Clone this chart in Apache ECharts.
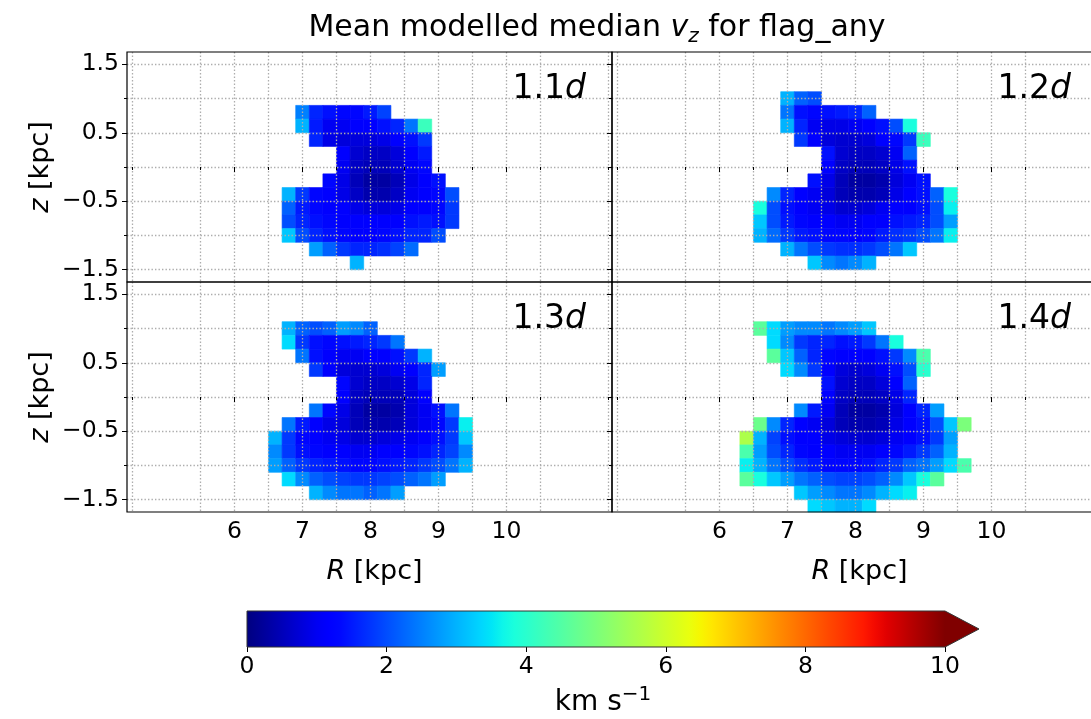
<!DOCTYPE html>
<html>
<head>
<meta charset="utf-8">
<script src="https://cdn.jsdelivr.net/npm/echarts@6/dist/echarts.min.js"></script>
<style>
  html, body { margin: 0; padding: 0; background: #ffffff; }
  #chart { width: 1091px; height: 719px; }
</style>
</head>
<body>
<div id="chart"></div>
<script>
// ---- data -------------------------------------------------------------
// Bin size (kpc) of the square R-z cells
const CELL = 0.2;

// Axis tick positions and labels
const R_MAJOR = [6, 7, 8, 9, 10];
const R_MINOR = [4.5, 5.5, 6.5, 7.5, 8.5, 9.5, 10.5, 11.5];
const Z_MAJOR = [-1.5, -0.5, 0.5, 1.5];
const Z_MINOR = [-1, 0, 1];
const CBAR_RANGE = [0, 10];
const CBAR_TICKS = [0, 2, 4, 6, 8, 10];
const PANEL_LABELS = ['1.1', '1.2', '1.3', '1.4'];

// Each row: [z centre (kpc), R centre of first cell (kpc), mean median v_z per cell (km/s)]
const rows11 = [
  [ 0.8, 7.0, [2.5, 1.6, 1.4, 1.3, 1.3, 1.5, 1.9]],
  [ 0.6, 7.0, [3.0, 1.5, 1.0, 1.0, 1.1, 1.2, 1.4, 1.6, 2.4, 4.2]],
  [ 0.4, 7.2, [1.6, 0.9, 0.8, 0.8, 0.8, 0.9, 1.2, 1.4, 1.8]],
  [ 0.2, 7.6, [1.2, 0.7, 0.6, 0.6, 0.8, 1.1, 1.5]],
  [ 0.0, 7.6, [1.0, 0.6, 0.5, 0.5, 0.7, 1.0, 1.3]],
  [-0.2, 7.4, [1.3, 0.9, 0.5, 0.3, 0.3, 0.5, 0.9, 1.1, 1.4]],
  [-0.4, 6.8, [3.0, 1.8, 1.3, 1.1, 0.9, 0.6, 0.4, 0.4, 0.6, 1.0, 1.2, 1.3, 2.0]],
  [-0.6, 6.8, [2.2, 1.5, 1.3, 1.2, 1.1, 0.9, 0.8, 0.8, 0.9, 1.1, 1.2, 1.3, 1.8]],
  [-0.8, 6.8, [2.0, 1.6, 1.4, 1.3, 1.2, 1.1, 1.1, 1.1, 1.2, 1.4, 1.5, 1.4, 1.8]],
  [-1.0, 6.8, [3.2, 2.0, 1.6, 1.4, 1.3, 1.2, 1.2, 1.3, 1.4, 1.6, 1.6, 2.0]],
  [-1.2, 7.2, [2.8, 2.2, 1.8, 1.6, 1.6, 1.7, 1.9, 2.3]],
  [-1.4, 7.8, [3.0]]
];

const rows12 = [
  [ 1.0, 7.0, [3.0, 2.2, 2.0]],
  [ 0.8, 7.0, [2.4, 1.4, 1.3, 1.4, 1.5, 1.6, 2.2]],
  [ 0.6, 7.0, [3.0, 1.6, 1.0, 0.9, 0.9, 1.0, 1.2, 1.4, 2.0, 3.8]],
  [ 0.4, 7.2, [1.8, 1.2, 0.8, 0.7, 0.7, 0.8, 1.1, 1.3, 1.8, 4.2]],
  [ 0.2, 7.6, [1.4, 0.7, 0.6, 0.6, 0.7, 1.0, 2.2]],
  [ 0.0, 7.6, [1.2, 0.6, 0.5, 0.5, 0.6, 0.9, 1.4]],
  [-0.2, 7.4, [1.4, 0.9, 0.5, 0.3, 0.3, 0.4, 0.8, 1.0, 1.4]],
  [-0.4, 6.8, [2.6, 1.6, 1.2, 1.0, 0.8, 0.5, 0.4, 0.4, 0.5, 0.9, 1.1, 1.4, 2.2, 3.8]],
  [-0.6, 6.6, [3.8, 2.0, 1.4, 1.2, 1.0, 0.9, 0.7, 0.7, 0.8, 1.0, 1.1, 1.2, 1.4, 2.0, 3.6]],
  [-0.8, 6.6, [3.2, 2.0, 1.5, 1.3, 1.2, 1.1, 1.0, 1.0, 1.1, 1.2, 1.4, 1.5, 1.6, 2.0, 2.8]],
  [-1.0, 6.6, [3.0, 2.3, 1.8, 1.5, 1.4, 1.3, 1.3, 1.2, 1.3, 1.5, 1.7, 1.8, 2.0, 2.4, 3.6]],
  [-1.2, 7.0, [3.0, 2.4, 2.0, 1.8, 1.7, 1.7, 1.8, 2.0, 2.4, 3.2]],
  [-1.4, 7.4, [3.2, 2.6, 2.4, 2.6, 3.0]]
];

const rows13 = [
  [ 1.0, 6.8, [3.0, 2.2, 2.0, 2.2, 2.8, 2.6, 2.2]],
  [ 0.8, 6.8, [3.4, 1.8, 1.4, 1.3, 1.4, 1.5, 1.6, 1.8, 2.4]],
  [ 0.6, 7.0, [2.4, 1.4, 1.1, 1.0, 1.0, 1.1, 1.2, 1.4, 1.8, 3.0]],
  [ 0.4, 7.2, [1.8, 1.2, 0.8, 0.7, 0.7, 0.8, 1.0, 1.2, 1.6, 2.8]],
  [ 0.2, 7.6, [1.3, 0.7, 0.6, 0.6, 0.7, 0.9, 1.6]],
  [ 0.0, 7.6, [1.1, 0.6, 0.5, 0.5, 0.5, 0.8, 1.2]],
  [-0.2, 7.2, [2.4, 1.3, 0.9, 0.5, 0.3, 0.3, 0.4, 0.8, 1.0, 1.4, 2.4]],
  [-0.4, 6.8, [2.4, 1.5, 1.1, 0.9, 0.8, 0.5, 0.4, 0.4, 0.5, 0.8, 1.0, 1.3, 1.8, 3.6]],
  [-0.6, 6.6, [3.0, 1.8, 1.3, 1.1, 1.0, 0.9, 0.7, 0.7, 0.8, 0.9, 1.0, 1.2, 1.4, 1.8, 3.2]],
  [-0.8, 6.6, [2.6, 1.8, 1.4, 1.3, 1.2, 1.1, 1.0, 1.0, 1.1, 1.2, 1.3, 1.4, 1.6, 1.9, 2.6]],
  [-1.0, 6.6, [2.8, 2.2, 1.8, 1.6, 1.5, 1.4, 1.3, 1.3, 1.4, 1.5, 1.6, 1.8, 2.0, 2.4, 3.0]],
  [-1.2, 6.8, [3.4, 2.6, 2.2, 2.0, 1.9, 1.8, 1.8, 1.9, 2.0, 2.2, 2.4, 2.8]],
  [-1.4, 7.2, [3.0, 2.6, 2.4, 2.4, 2.2, 2.4, 2.8]]
];

const rows14 = [
  [ 1.0, 6.6, [4.6, 3.4, 2.8, 2.6, 2.6, 2.4, 2.6, 2.8, 3.2]],
  [ 0.8, 6.8, [3.4, 2.6, 1.8, 1.6, 1.6, 1.4, 1.5, 1.8, 2.4, 3.8]],
  [ 0.6, 6.8, [4.6, 3.2, 2.2, 1.6, 1.3, 1.1, 1.1, 1.2, 1.4, 1.8, 2.6, 4.4]],
  [ 0.4, 7.0, [3.4, 2.6, 1.8, 1.2, 0.8, 0.7, 0.8, 1.0, 1.4, 2.0, 4.0]],
  [ 0.2, 7.6, [1.4, 0.7, 0.6, 0.6, 0.8, 1.1, 2.2]],
  [ 0.0, 7.6, [1.2, 0.6, 0.5, 0.5, 0.6, 0.9, 1.6]],
  [-0.2, 7.2, [2.6, 1.5, 1.0, 0.5, 0.3, 0.3, 0.4, 0.8, 1.1, 1.6, 2.8]],
  [-0.4, 6.6, [4.8, 2.6, 1.6, 1.2, 1.0, 0.8, 0.5, 0.4, 0.4, 0.5, 0.9, 1.1, 1.4, 2.0, 3.2, 5.0]],
  [-0.6, 6.4, [5.6, 3.0, 1.9, 1.4, 1.2, 1.1, 0.9, 0.8, 0.7, 0.7, 0.8, 1.0, 1.2, 1.4, 1.8, 2.8]],
  [-0.8, 6.4, [4.4, 2.8, 2.0, 1.6, 1.3, 1.2, 1.1, 1.0, 1.0, 1.0, 1.1, 1.3, 1.5, 1.8, 2.2, 3.0]],
  [-1.0, 6.4, [3.6, 3.0, 2.4, 2.0, 1.7, 1.5, 1.3, 1.3, 1.3, 1.4, 1.6, 1.8, 2.2, 2.4, 2.8, 3.4, 4.4]],
  [-1.2, 6.4, [4.6, 3.8, 3.2, 2.8, 2.4, 2.2, 2.0, 1.9, 1.9, 2.0, 2.2, 2.6, 3.2, 3.8, 4.6]],
  [-1.4, 7.2, [3.2, 2.8, 2.6, 2.4, 2.4, 2.6, 3.0, 3.4, 3.6]],
  [-1.6, 7.4, [3.4, 3.2, 3.0, 3.0, 3.4]]
];

// ---- helpers ------------------------------------------------------------
const FONT = 'DejaVu Sans';
const X_MIN = 4.42, X_MAX = 11.55;
const Y_MIN = -1.68, Y_MAX = 1.68;

// matplotlib "jet" colormap, t in [0, 1]
function jet(t) {
  t = Math.max(0, Math.min(1, t));
  const seg = pts => {
    for (let i = 1; i < pts.length; i++) {
      if (t <= pts[i][0]) {
        const [x0, y0] = pts[i - 1], [x1, y1] = pts[i];
        return y0 + (y1 - y0) * (t - x0) / (x1 - x0);
      }
    }
    return pts[pts.length - 1][1];
  };
  const r = seg([[0, 0], [0.35, 0], [0.66, 1], [0.89, 1], [1, 0.5]]);
  const g = seg([[0, 0], [0.125, 0], [0.375, 1], [0.64, 1], [0.91, 0], [1, 0]]);
  const b = seg([[0, 0.5], [0.11, 1], [0.34, 1], [0.65, 0], [1, 0]]);
  return 'rgb(' + Math.round(r * 255) + ',' + Math.round(g * 255) + ',' + Math.round(b * 255) + ')';
}
const norm = v => (v - CBAR_RANGE[0]) / (CBAR_RANGE[1] - CBAR_RANGE[0]);

// expand rows into [R, z, value] cells
function toCells(rows) {
  const out = [];
  rows.forEach(([z, r0, vals]) => {
    vals.forEach((v, i) => {
      out.push([Math.round((r0 + i * CELL) * 100) / 100, z, v]);
    });
  });
  return out;
}

function renderCell(params, api) {
  const r = api.value(0), z = api.value(1), v = api.value(2);
  const p0 = api.coord([r - CELL / 2, z + CELL / 2]);
  const p1 = api.coord([r + CELL / 2, z - CELL / 2]);
  const cs = params.coordSys;
  const shape = echarts.graphic.clipRectByRect(
    { x: p0[0], y: p0[1], width: p1[0] - p0[0], height: p1[1] - p0[1] },
    { x: cs.x, y: cs.y, width: cs.width, height: cs.height }
  );
  if (!shape) return null;
  const c = jet(norm(v));
  return { type: 'rect', shape: shape, style: { fill: c, stroke: c, lineWidth: 0.6 } };
}

const GRID_LINE = { color: '#adadad', width: 1.3, type: [1.4, 2.1] };
const TICK_LINE = { color: '#000', width: 1 };
const tickLabel = { color: '#000', fontFamily: FONT, fontSize: 23.5 };
const nameStyle = {
  color: '#000', fontFamily: FONT, fontSize: 27,
  rich: { i: { fontFamily: FONT, fontSize: 27, fontStyle: 'italic', color: '#000' } }
};
const minus = v => (v < 0 ? '\u2212' + Math.abs(v) : String(v));

// ---- layout ---------------------------------------------------------------
const PW = 485, PH = 230;
const panels = [
  { rows: rows11, left: 127, top: 52, xLab: false, yLab: true },
  { rows: rows12, left: 612, top: 52, xLab: false, yLab: false },
  { rows: rows13, left: 127, top: 282, xLab: true, yLab: true },
  { rows: rows14, left: 612, top: 282, xLab: true, yLab: false }
];

const grid = [], xAxis = [], yAxis = [], series = [], graphic = [];

panels.forEach((p, i) => {
  grid.push({ left: p.left, top: p.top, width: PW, height: PH, show: true,
    outerBoundsMode: 'none', containLabel: false,
    borderColor: '#000', borderWidth: 1.2, backgroundColor: 'transparent', z: 10 });

  const xCommon = { gridIndex: i, type: 'value', min: X_MIN, max: X_MAX, position: 'bottom', z: 5,
    axisLine: { show: false }, splitLine: { show: true, lineStyle: GRID_LINE } };
  xAxis.push(Object.assign({}, xCommon, {
    axisTick: { show: true, customValues: R_MAJOR, length: 5, lineStyle: TICK_LINE },
    axisLabel: Object.assign({ show: p.xLab, customValues: R_MAJOR, margin: 8 }, tickLabel),
    name: p.xLab ? '{i|R} [kpc]' : '', nameLocation: 'middle', nameGap: 46,
    nameTextStyle: Object.assign({ padding: [0, 0, 0, 10] }, nameStyle)
  }));
  xAxis.push(Object.assign({}, xCommon, {
    axisTick: { show: true, customValues: R_MINOR, length: 3, lineStyle: TICK_LINE },
    axisLabel: { show: false, customValues: R_MINOR }
  }));

  const yCommon = { gridIndex: i, type: 'value', min: Y_MIN, max: Y_MAX, position: 'left', z: 5,
    axisLine: { show: false }, splitLine: { show: true, lineStyle: GRID_LINE } };
  yAxis.push(Object.assign({}, yCommon, {
    axisTick: { show: true, customValues: Z_MAJOR, length: 5, lineStyle: TICK_LINE },
    axisLabel: Object.assign({ show: p.yLab, customValues: Z_MAJOR, margin: 8, formatter: minus }, tickLabel),
    name: p.yLab ? '{i|z} [kpc]' : '', nameLocation: 'middle', nameGap: 73, nameRotate: 90,
    nameTextStyle: nameStyle
  }));
  yAxis.push(Object.assign({}, yCommon, {
    axisTick: { show: true, customValues: Z_MINOR, length: 3, lineStyle: TICK_LINE },
    axisLabel: { show: false, customValues: Z_MINOR }
  }));

  series.push({ type: 'custom', xAxisIndex: 2 * i, yAxisIndex: 2 * i, z: 2,
    data: toCells(p.rows), renderItem: renderCell, silent: true });

  graphic.push({ type: 'text', z: 20,
    style: { text: '{n|' + PANEL_LABELS[i] + '}{i|d}', x: p.left + 459, y: p.top + 37,
      align: 'right', verticalAlign: 'middle',
      rich: { n: { fontFamily: FONT, fontSize: 33, color: '#000' },
              i: { fontFamily: FONT, fontSize: 33, fontStyle: 'italic', color: '#000' } } } });
});

// colour bar
const cb = grid.length;
grid.push({ left: 247, top: 611, width: 698, height: 36, show: false,
  outerBoundsMode: 'none', containLabel: false });
xAxis.push({ gridIndex: cb, type: 'value', min: CBAR_RANGE[0], max: CBAR_RANGE[1], position: 'bottom',
  axisLine: { show: false }, splitLine: { show: false },
  axisTick: { show: true, customValues: CBAR_TICKS, length: 5, lineStyle: TICK_LINE },
  axisLabel: Object.assign({ customValues: CBAR_TICKS, margin: 8 }, tickLabel),
  name: '{n|km s}{s|\u22121}', nameLocation: 'middle', nameGap: 38,
  nameTextStyle: { color: '#000', fontFamily: FONT, padding: [0, 0, 0, 14], rich: {
    n: { fontFamily: FONT, fontSize: 28, color: '#000', lineHeight: 36, verticalAlign: 'middle' },
    s: { fontFamily: FONT, fontSize: 20, color: '#000', lineHeight: 20, verticalAlign: 'top' } } }
});
yAxis.push({ gridIndex: cb, type: 'value', min: 0, max: 1, show: false });

const stops = [];
for (let k = 0; k <= 60; k++) stops.push({ offset: k / 60, color: jet(k / 60) });

series.push({ type: 'custom', xAxisIndex: xAxis.length - 1, yAxisIndex: yAxis.length - 1,
  silent: true, z: 2, data: [CBAR_RANGE],
  renderItem: function (params, api) {
    const a = api.coord([api.value(0), 1]);
    const b = api.coord([api.value(1), 0]);
    const midY = (a[1] + b[1]) / 2;
    const tip = [b[0] + 34, midY];
    return { type: 'group', children: [
      { type: 'rect', shape: { x: a[0], y: a[1], width: b[0] - a[0], height: b[1] - a[1] },
        style: { fill: new echarts.graphic.LinearGradient(0, 0, 1, 0, stops) } },
      { type: 'polygon', shape: { points: [[b[0], a[1]], tip, [b[0], b[1]]] },
        style: { fill: jet(1) } },
      { type: 'polygon', shape: { points: [[a[0], a[1]], [b[0], a[1]], tip, [b[0], b[1]], [a[0], b[1]]] },
        style: { fill: 'none', stroke: '#333', lineWidth: 1 } }
    ] };
  }
});

// title
graphic.push({ type: 'text', z: 20,
  style: { text: '{n|Mean modelled median }{v|v}{s|z}{n| for flag_any}', x: 597, y: 28,
    align: 'center', verticalAlign: 'middle',
    rich: {
      n: { fontFamily: FONT, fontSize: 30, color: '#000', lineHeight: 38, verticalAlign: 'middle' },
      v: { fontFamily: FONT, fontSize: 30, fontStyle: 'italic', color: '#000', lineHeight: 38, verticalAlign: 'middle' },
      s: { fontFamily: FONT, fontSize: 20, fontStyle: 'italic', color: '#000', lineHeight: 20, verticalAlign: 'bottom' }
    } } });

const chart = echarts.init(document.getElementById('chart'), null, { renderer: 'canvas' });
chart.setOption({
  animation: false,
  backgroundColor: '#ffffff',
  grid: grid, xAxis: xAxis, yAxis: yAxis, series: series, graphic: graphic
});
</script>
</body>
</html>
